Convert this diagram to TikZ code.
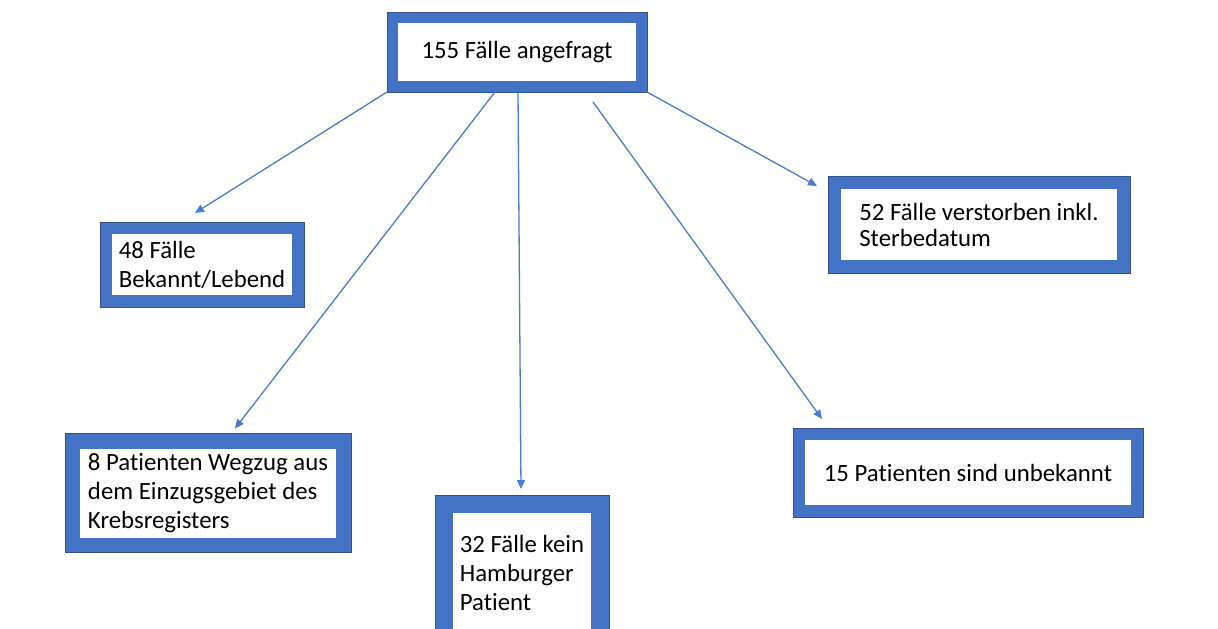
\documentclass[tikz,border=0pt]{standalone}
\usepackage{fontspec}
\setmainfont{Carlito}[RawFeature={-liga;-clig;-dlig}]
\usetikzlibrary{arrows.meta}
\definecolor{boxblue}{HTML}{4472C4}
\definecolor{edgeblue}{HTML}{2F528F}
\definecolor{arrblue}{HTML}{4A7BD0}
\tikzset{
  box/.style={draw=boxblue, fill=white, align=left, inner sep=0pt,
    font=\fontsize{24.8}{29}\selectfont, text=black},
  arr/.style={draw=arrblue, line width=1.3pt, -{Triangle[length=9pt,width=8pt]}},
  rim/.style={draw=edgeblue, line width=0.8pt}
}
\begin{document}
\begin{tikzpicture}[x=1pt,y=-1pt]
\useasboundingbox (0,0) rectangle (1218,629);
\fill[white] (0,0) rectangle (1218,629);
\begin{scope}
\clip (0,0) rectangle (1218,629);
\node[box, line width=11pt, minimum width=249pt, minimum height=69pt] (b1) at (517,52) {155 Fälle angefragt};
\node[box, line width=12pt, minimum width=192pt, minimum height=73pt] (b2) at (202,264.5) {48 Fälle\\Bekannt/Lebend};
\node[box, line width=15pt, minimum width=271pt, minimum height=104pt] (b3) at (208,493) {8 Patienten Wegzug aus\\dem Einzugsgebiet des\\Krebsregisters};
\node[box, line width=18pt, minimum width=156pt, minimum height=137pt] (b4) at (522,572.5) {32 Fälle kein\\Hamburger\\Patient};
\node[box, line width=12pt, minimum width=338pt, minimum height=77pt] (b5) at (968,472.5) {15 Patienten sind unbekannt};
\node[box, line width=13pt, minimum width=289pt, minimum height=84pt, font=\fontsize{24.8}{26}\selectfont] (b6) at (979,224.5) {52 Fälle verstorben inkl.\\Sterbedatum};
\foreach \n in {b1,b2,b3,b4,b5,b6}{
  \draw[rim] (\n.south west) rectangle (\n.north east);
}
\end{scope}
\draw[arr] (b1.south west) -- ([shift={(-7,-9)}]b2.north);
\draw[arr] ([xshift=-22]b1.south) -- ([shift={(27,-5)}]b3.north);
\draw[arr] ([xshift=1]b1.south) -- ([shift={(-1,-6)}]b4.north);
\draw[arr] ([shift={(76,10)}]b1.south) -- ([shift={(-146,-9)}]b5.north);
\draw[arr] (b1.south east) -- ([shift={(-11,10)}]b6.north west);
\end{tikzpicture}
\end{document}
